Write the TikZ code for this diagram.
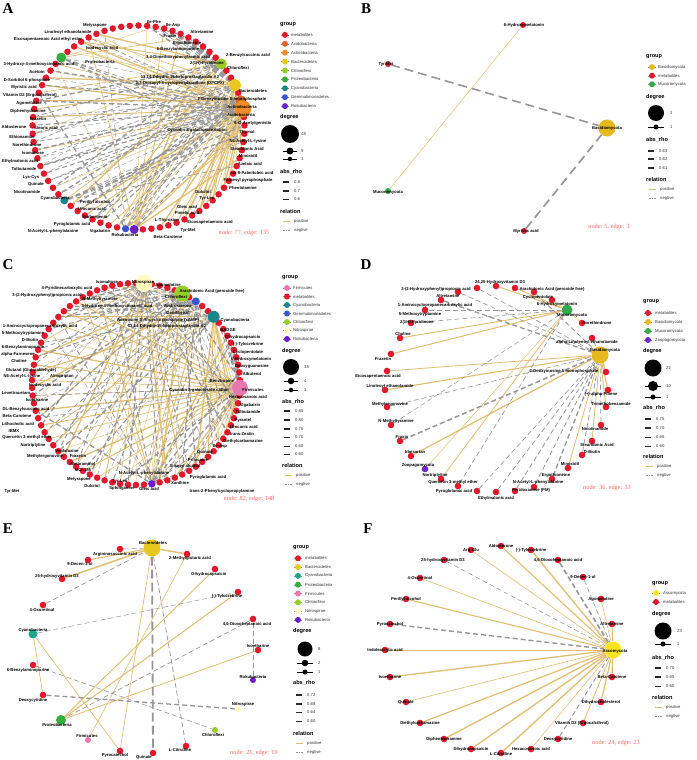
\documentclass[tikz,border=0pt]{standalone}
\usepackage{fontspec}
\setmainfont{Liberation Sans}
\newfontfamily\serifbf{Liberation Serif}
\pgfdeclarelayer{edgelayer}
\pgfsetlayers{edgelayer,main}
\definecolor{metab}{RGB}{225,25,45}
\definecolor{acido}{RGB}{226,100,40}
\definecolor{actino}{RGB}{238,140,40}
\definecolor{bactero}{RGB}{232,200,30}
\definecolor{chloro}{RGB}{150,205,40}
\definecolor{proteo}{RGB}{50,175,60}
\definecolor{cyano}{RGB}{25,135,140}
\definecolor{cyanoE}{RGB}{30,165,140}
\definecolor{gemma}{RGB}{55,85,205}
\definecolor{roku}{RGB}{105,30,200}
\definecolor{firmi}{RGB}{228,120,175}
\definecolor{nitro}{RGB}{255,250,190}
\definecolor{basid}{RGB}{230,185,30}
\definecolor{muco}{RGB}{50,170,75}
\definecolor{zoop}{RGB}{110,40,205}
\definecolor{asco}{RGB}{252,228,30}
\definecolor{poscol}{RGB}{225,190,115}
\definecolor{negcol}{RGB}{150,150,150}
\definecolor{statcol}{RGB}{255,105,105}
\tikzset{
 lbl/.style={font=\fontsize{4.2}{4.2}\selectfont\bfseries, inner sep=0pt, text=black},
 leg/.style={font=\fontsize{4.2}{4.2}\selectfont, inner sep=0pt, anchor=west, text=black!80},
 legt/.style={font=\fontsize{5.6}{5.6}\selectfont\bfseries, inner sep=0pt, anchor=west},
 dot/.style={circle, fill=metab, inner sep=0pt, minimum size=6.6pt},
 legdot/.style={circle, inner sep=0pt, minimum size=6pt},
 bdot/.style={circle, fill=black, inner sep=0pt},
 pe/.style={draw=poscol, line width=0.7pt},
 ne/.style={draw=negcol, line width=0.7pt, dash pattern=on 5pt off 3pt},
 stat/.style={font=\serifbf\fontsize{6.3}{6.3}\selectfont, text=statcol, inner sep=0pt},
 letter/.style={font=\serifbf\bfseries\fontsize{15}{15}\selectfont, inner sep=0pt},
 legkey/.style={draw=black!45, line width=0.4pt}
}
\newcommand{\RelLegend}[3]{%
 \node[legt] (#1rel) at (#2,#3) {relation};
 \draw[poscol, line width=0.7pt] (#2+3,#3+10) -- (#2+10,#3+10);
 \node[leg] (#1pos) at (#2+14,#3+10) {positive};
 \draw[negcol, line width=0.7pt, dash pattern=on 1.6pt off 1pt] (#2+3,#3+19) -- (#2+10,#3+19);
 \node[leg] (#1neg) at (#2+14,#3+19) {negtive};}
\begin{document}
\begin{tikzpicture}[x=1pt,y=-1pt]
\useasboundingbox (0,0) rectangle (696,760);
\begin{pgfonlayer}{edgelayer}
\fill[white] (0,0) rectangle (696,760);
\end{pgfonlayer}
% ================= PANEL A =================
\node[letter] (LetA) at (8,9) {A};
\foreach \i in {0,...,76} \node[dot] (A\i) at ({138.5+106*cos(-90+\i*4.675325)},{127.5+102*sin(-90+\i*4.675325)}) {};
\foreach \i/\c/\s in {16/acido/11,17/actino/17,14/bactero/12,11/chloro/11,67/proteo/10,48/cyano/8,40/gemma/7,39/roku/9}
 \node[dot, fill=\c, minimum size=\s pt] (A\i) at (A\i.center) {};
\begin{pgfonlayer}{edgelayer}
\foreach \s/\tl in {17/{26,27,28,29,30,31,32,33,34,36,41,42,45,46,50,55,59,63,65,66,69,70,72},14/{22,24,27,29,31,33,35,60,64,68,71},11/{25,41,43,47,57,62,70,72},39/{1,3,5,8,9,12,19,23,66,71},67/{2,6},16/{30,33,61,69},40/{10,20},48/{13}}
 {\foreach \t [count=\k] in \tl {\draw[pe, line width={0.35+0.3*mod(\k+\s,4)}] (A\s) -- (A\t);}}
\foreach \s/\tl in {17/{44,47,49,51,52,53,54,56,58,61,64,71},16/{41,43,46,50,51,53,55,57,59,63,65,70},14/{1,2,3,4,5,6,7,8,9,10,41,44,49,52,54,57},11/{1,2,3,4,5,6,7,50,53,56,59,61},39/{13,15,18},40/{12,15,62,73},48/{18,19,20,21,24},67/{15,18,19,21,22}}
 {\foreach \t [count=\k] in \tl {\draw[ne, line width={0.4+0.3*mod(\k+\s,4)}] (A\s) -- (A\t);}}
\end{pgfonlayer}
\node[lbl] (la1) at (95,25) {Metyrapone};
\node[lbl] (la2) at (154,22) {Ile-Phe};
\node[lbl] (la3) at (173,25) {Ile-Asp};
\node[lbl] (la4) at (68,32) {Linoleoyl ethanolamide};
\node[lbl] (la5) at (202,32) {Altretamine};
\node[lbl] (la6) at (170,36) {Fraxin};
\node[lbl] (la7) at (48,39) {Eicosapentaenoic Acid ethyl ester};
\node[lbl] (la8) at (187,43) {Ergothioneine};
\node[lbl] (la9) at (102,48) {Isodecyclic acid};
\node[lbl] (la10) at (178,49) {6-Benzylaminopurine};
\node[lbl] (la11) at (100,62) {Proteobacteria};
\node[lbl] (la12) at (178,57) {3,4-Dimethoxyphenylacetic acid};
\node[lbl] (la13) at (248,55) {2-Benzylsuccinic acid};
\node[lbl] (la14) at (207,63) {2(1H)-Pyridinone};
\node[lbl] (la15) at (238,68) {Chloroflexi};
\node[lbl] (la16) at (39,64) {3-Hydroxy-4-methoxycinnamic acid};
\node[lbl] (la17) at (37,72) {Acetoin};
\node[lbl] (la18) at (27,80) {D-Sorbitol 6-phosphate};
\node[lbl] (la19) at (180,77) {13,14-Dihydro-15-ketoprostaglandin A2};
\node[lbl] (la20) at (180,83) {1,3-Dipropyl-8-cyclopentylxanthine (DPCPX)};
\node[lbl] (la21) at (253,91) {Bacteroidetes};
\node[lbl] (la22) at (24,87) {Myristic acid};
\node[lbl] (la23) at (30,95) {Vitamin D2 (Ergocalciferol)};
\node[lbl] (la24) at (232,99) {2-Deoxyinosine 5-monophosphate};
\node[lbl] (la25) at (29,103) {Agomelatine};
\node[lbl] (la26) at (242,107) {Actinobacteria};
\node[lbl] (la27) at (28,111) {Diphenhydramine};
\node[lbl] (la28) at (241,115) {Acidobacteria};
\node[lbl] (la29) at (38,119) {Fraxetin};
\node[lbl] (la30) at (253,123) {6-O-Acetylgenistin};
\node[lbl] (la31) at (14,127) {Aldosterone};
\node[lbl] (la32) at (46,128) {Stearic acid};
\node[lbl] (la33) at (197,130) {Cyanidin 3-galactoside cation};
\node[lbl] (la34) at (247,132) {Thymol};
\node[lbl] (la35) at (22,137) {Ethionamide};
\node[lbl] (la36) at (248,141) {N6-Acetyl-L-lysine};
\node[lbl] (la37) at (27,145) {Norethindrone};
\node[lbl] (la38) at (247,149) {Stearidonic Acid};
\node[lbl] (la39) at (33,153) {Isomaltose};
\node[lbl] (la40) at (248,156) {Minoxidil};
\node[lbl] (la41) at (20,161) {Ethylmalonic acid};
\node[lbl] (la42) at (250,164) {Azelaic acid};
\node[lbl] (la43) at (24,169) {Tolbutamide};
\node[lbl] (la44) at (252,173) {cis-9-Palmitoleic acid};
\node[lbl] (la45) at (31,177) {Lys-Cys};
\node[lbl] (la46) at (248,180) {Farnesyl pyrophosphate};
\node[lbl] (la47) at (36,184) {Quinate};
\node[lbl] (la48) at (243,188) {Phentolamine};
\node[lbl] (la49) at (27,192) {Nicotinamide};
\node[lbl] (la50) at (55,198) {Cyanobacteria};
\node[lbl] (la51) at (203,192) {Dulcitol};
\node[lbl] (la52) at (95,202) {Perillyl alcohol};
\node[lbl] (la53) at (207,198) {Tyr-Leu};
\node[lbl] (la54) at (187,207) {Oleic acid};
\node[lbl] (la55) at (92,209) {Urocanic acid};
\node[lbl] (la56) at (187,213) {Pimelic acid};
\node[lbl] (la57) at (95,217) {Norbergenin};
\node[lbl] (la58) at (167,220) {L-Thyroxine};
\node[lbl] (la59) at (210,222) {Eicosapentaenoic acid};
\node[lbl] (la60) at (72,224) {Pyroglutamic acid};
\node[lbl] (la61) at (53,231) {N-Acetyl-L-phenylalanine};
\node[lbl] (la62) at (100,231) {Vigabatrin};
\node[lbl] (la63) at (125,235) {Rokubacteria};
\node[lbl] (la64) at (188,230) {Tyr-Met};
\node[lbl] (la65) at (168,237) {Beta-Carotene};
\node[stat] (Ast) at (244,233) {node: 77, edge: 135};
% legend A
\node[legt] (Ag) at (280,25) {group};
\foreach \c/\t [count=\k] in {metab/metabolites,acido/Acidobacteria,actino/Actinobacteria,bactero/Bacteroidetes,chloro/Chloroflexi,proteo/Proteobacteria,cyano/Cyanobacteria,gemma/Gemmatimonadetes,roku/Rokubacteria}{
 \draw[legkey] (281,{26+8.9*\k}) -- (289,{26+8.9*\k});
 \node[legdot, fill=\c] (Agd\k) at (285,{26+8.9*\k}) {};
 \node[leg] (Agt\k) at (291,{26+8.9*\k}) {\t};}
\node[legt] (Adeg) at (280,117) {degree};
\node[bdot, minimum size=18pt] (Adg1) at (290,134) {};
\node[leg] (Adt1) at (301,134) {48};
\draw[black, line width=0.5pt] (283,151) -- (297,151);
\node[bdot, minimum size=7pt] (Adg2) at (290,151) {};
\node[leg] (Adt2) at (301,151) {9};
\draw[black, line width=0.5pt] (283,159) -- (297,159);
\node[bdot, minimum size=4.5pt] (Adg3) at (290,159) {};
\node[leg] (Adt3) at (301,159) {1};
\node[legt] (Aab) at (280,172) {abs\_rho};
\foreach \y/\w/\t [count=\k] in {182/1.4/0.8,191/1.1/0.7,199/0.8/0.6}{
 \draw[black!85, line width=\w pt] (283,\y) -- (289,\y);
 \node[leg] (Aat\k) at (294,\y) {\t};}
\RelLegend{A}{280}{211}
% ================= PANEL B =================
\node[letter] (LetB) at (366,9) {B};
\node[dot, minimum size=6pt] (Bhm) at (523,25) {};
\node[dot, minimum size=6pt] (Btm) at (388,64) {};
\node[dot, fill=basid, minimum size=17pt] (Bbas) at (607,128) {};
\node[dot, fill=muco, minimum size=6pt] (Bmuc) at (388,191) {};
\node[dot, minimum size=6pt] (Bmyr) at (524,231) {};
\begin{pgfonlayer}{edgelayer}
\draw[pe, line width=0.5pt] (Bhm) -- (Bmuc);
\draw[ne, line width=1.6pt, dash pattern=on 9pt off 5pt] (Btm) -- (Bbas);
\draw[ne, line width=1.7pt, dash pattern=on 9pt off 5pt] (Bmyr) -- (Bbas);
\end{pgfonlayer}
\node[lbl] (lb1) at (524,25) {6-Hydroxymelatonin};
\node[lbl] (lb2) at (386,64) {Tyr-Met};
\node[lbl] (lb3) at (607,128) {Basidiomycota};
\node[lbl] (lb4) at (388,192) {Mucoromycota};
\node[lbl] (lb5) at (526,231) {Myristic acid};
\node[stat] (Bst) at (609,227) {node: 5, edge: 3};
\node[legt] (Bg) at (646,57) {group};
\foreach \c/\t [count=\k] in {basid/Basidiomycota,metab/metabolites,muco/Mucoromycota}{
 \draw[legkey] (648,{58.5+8.6*\k}) -- (656,{58.5+8.6*\k});
 \node[legdot, fill=\c] (Bgd\k) at (652,{58.5+8.6*\k}) {};
 \node[leg] (Bgt\k) at (658,{58.5+8.6*\k}) {\t};}
\node[legt] (Bdeg) at (646,97) {degree};
\node[bdot, minimum size=16pt] (Bdg1) at (656,113) {};
\node[leg] (Bdt1) at (670,113) {2};
\draw[black, line width=0.5pt] (648,127) -- (664,127);
\node[bdot, minimum size=5pt] (Bdg2) at (656,127) {};
\node[leg] (Bdt2) at (670,127) {1};
\node[legt] (Bab) at (646,140) {abs\_rho};
\foreach \y/\w/\t [count=\k] in {151/1.6/0.63,159/1.4/0.62,168/1.2/0.61}{
 \draw[black!85, line width=\w pt] (648,\y) -- (654,\y);
 \node[leg] (Bat\k) at (659,\y) {\t};}
\RelLegend{B}{646}{179}
% ================= PANEL C =================
\node[letter] (LetC) at (8,265) {C};
\foreach \i in {0,...,81} \node[dot] (C\i) at ({136+104*cos(-90+\i*4.390244)},{384+101*sin(-90+\i*4.390244)}) {};
\foreach \i/\c/\s in {1/nitro/17,6/chloro/16,8/gemma/8,11/cyano/12,21/firmi/16,39/roku/7.5}
 \node[dot, fill=\c, minimum size=\s pt] (C\i) at (C\i.center) {};
\begin{pgfonlayer}{edgelayer}
\foreach \s/\tl in {21/{26,28,30,32,34,36,44,46,48,50,52,54,56,58,60,62,64,66,68,70,72,74,76,78,80},11/{22,23,24,25,27,29,31,33,47,55,63,71},1/{35,37,41,43,45,51,59,67},6/{38,42,49,57,65,73,79},39/{3,5,9,14,16,75,77},8/{40,53,61}}
 {\foreach \t [count=\k] in \tl {\draw[pe, line width={0.35+0.3*mod(\k+\s,4)}] (C\s) -- (C\t);}}
\foreach \s/\tl in {6/{20,24,26,29,33,36,40,44,47,50,53,57,60,63,66,69,72,75,78,81},1/{23,27,31,34,38,42,46,49,52,56,61,64,70,74},8/{25,30,35,45,55,65,71,76,80},11/{2,4,48,52,59,67,73,77},21/{12,13,14,15,16,17,18,35,38,43,57,60},39/{7,10,15,19,22,27,33,58,69,71,79}}
 {\foreach \t [count=\k] in \tl {\draw[ne, line width={0.4+0.3*mod(\k+\s,4)}] (C\s) -- (C\t);}}
\end{pgfonlayer}
\node[lbl] (lc1) at (67,288) {4-Pyridinecarboxylic acid};
\node[lbl] (lc2) at (107,282) {Isomaltose};
\node[lbl] (lc3) at (143,282) {Nitrospirae};
\node[lbl] (lc4) at (168,285) {Agomelatine};
\node[lbl] (lc5) at (212,291) {Arachidonic Acid (peroxide free)};
\node[lbl] (lc6) at (47,295) {3-(2-Hydroxyphenyl)propionic acid};
\node[lbl] (lc7) at (176,297) {Chloroflexi};
\node[lbl] (lc8) at (100,299) {N-Methyltyramine};
\node[lbl] (lc9) at (178,306) {Androsterone};
\node[lbl] (lc10) at (117,306) {3-Hydroxy-4-methoxycinnamic acid};
\node[lbl] (lc11) at (178,313) {Gemfibrozil};
\node[lbl] (lc12) at (235,320) {Cyanobacteria};
\node[lbl] (lc13) at (158,320) {Adenosine 3',5'-cyclic phosphate (cAMP)};
\node[lbl] (lc14) at (40,326) {1-Aminocyclopropanecarboxylic acid};
\node[lbl] (lc15) at (167,326) {13,14-Dihydro-15-ketoprostaglandin A2};
\node[lbl] (lc16) at (228,330) {BADGE};
\node[lbl] (lc17) at (23,333) {5-Methoxytryptamine};
\node[lbl] (lc18) at (243,337) {Dihydrocapsaicin};
\node[lbl] (lc19) at (30,340) {D-Biotin};
\node[lbl] (lc20) at (248,344) {(-)-Tylocrebrine};
\node[lbl] (lc21) at (23,347) {6-Benzylaminopurine};
\node[lbl] (lc22) at (248,352) {Cyclopentolate};
\node[lbl] (lc23) at (18,354) {alpha-Farnesene};
\node[lbl] (lc24) at (251,359) {6-Hydroxymelatonin};
\node[lbl] (lc25) at (19,361) {Choline};
\node[lbl] (lc26) at (252,366) {Deoxyguanosine};
\node[lbl] (lc27) at (31,370) {Glutaral (Glutaraldehyde)};
\node[lbl] (lc28) at (252,374) {Albuterol};
\node[lbl] (lc29) at (22,376) {N6-Acetyl-L-lysine};
\node[lbl] (lc30) at (62,376) {Almotriptan};
\node[lbl] (lc31) at (222,381) {Benztropine};
\node[lbl] (lc32) at (45,385) {Isodecyclic acid};
\node[lbl] (lc33) at (253,390) {Firmicutes};
\node[lbl] (lc34) at (199,390) {Cyanidin 3-galactoside cation};
\node[lbl] (lc35) at (16,393) {Levetiracetam};
\node[lbl] (lc36) at (248,397) {Hexacosanoic acid};
\node[lbl] (lc37) at (37,400) {Isoetharine};
\node[lbl] (lc38) at (250,405) {Vigabatrin};
\node[lbl] (lc39) at (26,409) {DL-Benzylsuccinic acid};
\node[lbl] (lc40) at (248,412) {Tolbutamide};
\node[lbl] (lc41) at (17,416) {Beta-Carotene};
\node[lbl] (lc42) at (243,420) {Pyrantel};
\node[lbl] (lc43) at (18,424) {Lithocholic acid};
\node[lbl] (lc44) at (244,427) {Urocanic acid};
\node[lbl] (lc45) at (14,431) {IBMX};
\node[lbl] (lc46) at (242,434) {trans-Zeatin};
\node[lbl] (lc47) at (27,437) {Quercetin 3-methyl ether};
\node[lbl] (lc48) at (243,441) {Diethylcarbamazine};
\node[lbl] (lc49) at (33,445) {Nortriptyline};
\node[lbl] (lc50) at (220,446) {Ile-Asp};
\node[lbl] (lc51) at (67,451) {Venlafaxine};
\node[lbl] (lc52) at (205,452) {Quinate};
\node[lbl] (lc53) at (45,456) {Methylergonovine};
\node[lbl] (lc54) at (78,456) {Fraxetin};
\node[lbl] (lc55) at (198,460) {Prilocaine};
\node[lbl] (lc56) at (83,464) {Metaraminol};
\node[lbl] (lc57) at (185,466) {Sinapyl alcohol};
\node[lbl] (lc58) at (83,470) {MCI-186};
\node[lbl] (lc59) at (144,473) {N-Acetyl-L-phenylalanine};
\node[lbl] (lc60) at (208,477) {Pyroglutamic acid};
\node[lbl] (lc61) at (79,479) {Metyrapone};
\node[lbl] (lc62) at (120,481) {Tyr-Leu};
\node[lbl] (lc63) at (92,486) {Dulcitol};
\node[lbl] (lc64) at (122,488) {Sphinganine};
\node[lbl] (lc65) at (149,489) {Oleic acid};
\node[lbl] (lc66) at (180,483) {Xanthine};
\node[lbl] (lc67) at (222,491) {trans-2-Phenylcyclopropylamine};
\node[lbl] (lc68) at (12,491) {Tyr-Met};
\node[stat] (Cst) at (249,499) {node: 82, edge: 148};
\node[legt] (Cg) at (282,278) {group};
\foreach \c/\t [count=\k] in {firmi/Firmicutes,metab/metabolites,cyano/Cyanobacteria,gemma/Gemmatimonadetes,chloro/Chloroflexi,nitro/Nitrospirae,roku/Rokubacteria}{
 \draw[legkey] (283,{279.5+8.5*\k}) -- (291,{279.5+8.5*\k});
 \node[legdot, fill=\c] (Cgd\k) at (287,{279.5+8.5*\k}) {};
 \node[leg] (Cgt\k) at (293,{279.5+8.5*\k}) {\t};}
\node[legt] (Cdeg) at (282,351) {degree};
\node[bdot, minimum size=16pt] (Cdg1) at (291,367) {};
\node[leg] (Cdt1) at (304,367) {38};
\draw[black, line width=0.5pt] (284,381) -- (298,381);
\node[bdot, minimum size=6.5pt] (Cdg2) at (291,381) {};
\node[leg] (Cdt2) at (304,381) {4};
\draw[black, line width=0.5pt] (284,390) -- (298,390);
\node[bdot, minimum size=4.5pt] (Cdg3) at (291,390) {};
\node[leg] (Cdt3) at (304,390) {1};
\node[legt] (Cab) at (282,402) {abs\_rho};
\foreach \y/\w/\t [count=\k] in {411/1.6/0.85,420/1.4/0.80,429/1.2/0.75,437/1.0/0.70,446/0.8/0.65,454/0.6/0.60}{
 \draw[black!85, line width=\w pt] (284,\y) -- (290,\y);
 \node[leg] (Cat\k) at (295,\y) {\t};}
\RelLegend{C}{282}{465}
% ================= PANEL D =================
\node[letter] (LetD) at (366,265) {D};
\foreach \n/\x/\y in {hpp/458/292,amc/477/288,hvd/496/286,ara/515/288,cyc/534/292,hm/552/300,nor/582/323,lint/592/338,deo/606/372,pin/608/390,tri/606/407,nic/601/425,ste/592/441,bio/582/455,min/568/468,erg/552/479,nac/534/487,pyr/515/491,eth/496/492,pyg/477/491,que/458/486,nort/441/479,irb/411/456,frx/400/441,nmt/391/425,meg/387/407,lin/385/390,eic/387/371,fxt/391/354,cho/400/338,pyd/411/323,met/425/310,alt/441/300}
 \node[dot] (D\n) at (\x,\y) {};
\node[dot, fill=muco, minimum size=11pt] (Dmuco) at (567,310) {};
\node[dot, fill=basid, minimum size=17pt] (Dbas) at (600,355) {};
\node[dot, fill=zoop, minimum size=6.6pt] (Dzoo) at (425,469) {};
\begin{pgfonlayer}{edgelayer}
\foreach \a/\b/\w in {hvd/muco/0.9,cho/muco/0.9,fxt/muco/1.0,eic/bas/0.8,lin/bas/1.1,irb/bas/1.2,zoo/muco/0.5,nort/muco/0.8,min/bas/0.8,ste/bas/0.8,tri/bas/0.9,pin/bas/1.1,deo/bas/1.0,nor/muco/0.6,ara/muco/0.9,hm/muco/0.6}
 \draw[pe, line width=\w pt] (D\a) -- (D\b);
\foreach \a/\b/\w in {hpp/bas/0.6,alt/bas/1.3,amc/bas/0.6,met/muco/0.6,pyd/muco/0.6,meg/bas/0.6,frx/bas/1.5,que/muco/0.6,pyg/bas/0.6,eth/bas/0.7,pyr/bas/0.8,nac/bas/0.7,erg/bas/1.3,bio/bas/0.7,nic/bas/0.7,lint/bas/0.7,cyc/bas/0.8,nmt/muco/0.5}
 \draw[ne, line width=\w pt] (D\a) -- (D\b);
\end{pgfonlayer}
\node[lbl] (ld1) at (500,282) {24,25-Hydroxyvitamin D3};
\node[lbl] (ld2) at (436,289) {3-(2-Hydroxyphenyl)propionic acid};
\node[lbl] (ld3) at (552,289) {Arachidonic Acid (peroxide free)};
\node[lbl] (ld4) at (448,296) {Altretamine};
\node[lbl] (ld5) at (538,297) {Cyclopentolate};
\node[lbl] (ld6) at (435,305) {1-Aminocyclopropanecarboxylic acid};
\node[lbl] (ld7) at (557,304) {6-Hydroxymelatonin};
\node[lbl] (ld8) at (420,314) {5-Methoxytryptamine};
\node[lbl] (ld9) at (417,322) {2(1H)-Pyridinone};
\node[lbl] (ld10) at (572,315) {Mucoromycota};
\node[lbl] (ld11) at (597,323) {Norethindrone};
\node[lbl] (ld12) at (403,334) {Choline};
\node[lbl] (ld13) at (587,342) {alpha-Linolenoyl ethanolamide};
\node[lbl] (ld14) at (605,350) {Basidiomycota};
\node[lbl] (ld15) at (383,359) {Fraxetin};
\node[lbl] (ld16) at (378,376) {Eicosapentaenoic acid};
\node[lbl] (ld17) at (564,371) {2-Deoxyinosine 5-monophosphate};
\node[lbl] (ld18) at (390,386) {Linoleoyl ethanolamide};
\node[lbl] (ld19) at (601,394) {(+)-alpha-Pinene};
\node[lbl] (ld20) at (390,404) {Methylergonovine};
\node[lbl] (ld21) at (611,404) {Trimethobenzamide};
\node[lbl] (ld22) at (396,421) {N-Methyltyramine};
\node[lbl] (ld23) at (595,429) {Nicotinamide};
\node[lbl] (ld24) at (402,437) {Fraxin};
\node[lbl] (ld25) at (597,445) {Stearidonic Acid};
\node[lbl] (ld26) at (592,452) {D-Biotin};
\node[lbl] (ld27) at (415,452) {Irbesartan};
\node[lbl] (ld28) at (418,465) {Zoopagomycota};
\node[lbl] (ld29) at (570,464) {Minoxidil};
\node[lbl] (ld30) at (435,475) {Nortriptyline};
\node[lbl] (ld31) at (556,475) {Ergothioneine};
\node[lbl] (ld32) at (453,482) {Quercetin 3-methyl ether};
\node[lbl] (ld33) at (538,482) {N-Acetyl-L-phenylalanine};
\node[lbl] (ld34) at (454,491) {Pyroglutamic acid};
\node[lbl] (ld35) at (531,490) {Pyridoxamine (PM)};
\node[lbl] (ld36) at (496,498) {Ethylmalonic acid};
\node[stat] (Dst) at (607,488) {node: 36, edge: 33};
\node[legt] (Dg) at (643,302) {group};
\foreach \c/\t [count=\k] in {metab/metabolites,basid/Basidiomycota,muco/Mucoromycota,zoop/Zoopagomycota}{
 \draw[legkey] (644,{304+9*\k}) -- (652,{304+9*\k});
 \node[legdot, fill=\c] (Dgd\k) at (648,{304+9*\k}) {};
 \node[leg] (Dgt\k) at (655,{304+9*\k}) {\t};}
\node[legt] (Ddeg) at (643,351) {degree};
\node[bdot, minimum size=17pt] (Ddg1) at (653,368) {};
\node[leg] (Ddt1) at (666,368) {22};
\draw[black, line width=0.5pt] (645,386) -- (661,386);
\node[bdot, minimum size=10pt] (Ddg2) at (653,386) {};
\node[leg] (Ddt2) at (666,386) {10};
\draw[black, line width=0.5pt] (645,397) -- (661,397);
\node[bdot, minimum size=5pt] (Ddg3) at (653,397) {};
\node[leg] (Ddt3) at (666,397) {1};
\node[legt] (Dab) at (643,408) {abs\_rho};
\foreach \y/\w/\t [count=\k] in {419/1.5/0.75,428/1.25/0.70,437/1.0/0.65,446/0.75/0.60}{
 \draw[black!85, line width=\w pt] (645,\y) -- (651,\y);
 \node[leg] (Dat\k) at (656,\y) {\t};}
\RelLegend{D}{643}{456}
% ================= PANEL E =================
\node[letter] (LetE) at (8,529) {E};
\foreach \n/\x/\y in {arg/120/549,mgl/187/554,dec/88/560,dhc/215/569,hvd/62/579,tyl/238/592,oxo/43/605,dox/253/619,iso/258/650,ben/33/665,dcy/43/695,cit/186/746,pyr/120/751,qui/153/753}
 \node[dot] (E\n) at (\x,\y) {};
\node[dot, fill=bactero, minimum size=17pt] (Ebac) at (152,548) {};
\node[dot, fill=cyanoE, minimum size=9pt] (Ecya) at (33,634) {};
\node[dot, fill=roku, minimum size=6pt] (Erok) at (253,680) {};
\node[dot, fill=nitro, minimum size=6pt] (Enit) at (238,709) {};
\node[dot, fill=proteo, minimum size=10pt] (Epro) at (61,720) {};
\node[dot, fill=chloro, minimum size=6pt] (Echl) at (215,730) {};
\node[dot, fill=firmi, minimum size=6pt] (Efir) at (88,740) {};
\begin{pgfonlayer}{edgelayer}
\foreach \a/\b/\w in {hvd/bac/1.5,dec/bac/1.0,bac/mgl/1.5,bac/pyr/0.7,mgl/fir/0.6,dhc/pro/0.9,tyl/pro/1.0,iso/pro/0.8,cya/dcy/0.7,cya/pyr/0.7}
 \draw[pe, line width=\w pt] (E\a) -- (E\b);
\foreach \a/\b/\w in {arg/bac/0.5,oxo/bac/0.7,bac/cit/0.7,cya/tyl/0.5,dox/pro/0.7,dox/rok/0.5,ben/chl/0.6,dcy/nit/1.3}
 \draw[ne, line width=\w pt] (E\a) -- (E\b);
\draw[ne, line width=1.8pt, dash pattern=on 9pt off 4pt] (Ebac) -- (Equi);
\end{pgfonlayer}
\node[lbl] (le1) at (153,543) {Bacteroidetes};
\node[lbl] (le2) at (115,554) {Argininosuccinic acid};
\node[lbl] (le3) at (190,558) {2-Methylglutaric acid};
\node[lbl] (le4) at (80,564) {9-Decen-1-ol};
\node[lbl] (le5) at (209,574) {Dihydrocapsaicin};
\node[lbl] (le6) at (57,576) {25-hydroxyvitamin D3};
\node[lbl] (le7) at (227,596) {(-)-Tylocrebrine};
\node[lbl] (le8) at (42,610) {4-Oxoretinol};
\node[lbl] (le9) at (247,624) {4,6-Dioxoheptanoic acid};
\node[lbl] (le10) at (33,630) {Cyanobacteria};
\node[lbl] (le11) at (258,646) {Isoetharine};
\node[lbl] (le12) at (28,670) {6-Benzylaminopurine};
\node[lbl] (le13) at (253,677) {Rokubacteria};
\node[lbl] (le14) at (33,700) {Deoxycytidine};
\node[lbl] (le15) at (243,704) {Nitrospirae};
\node[lbl] (le16) at (57,725) {Proteobacteria};
\node[lbl] (le17) at (213,735) {Chloroflexi};
\node[lbl] (le18) at (87,736) {Firmicutes};
\node[lbl] (le19) at (180,750) {L-Citrulline};
\node[lbl] (le20) at (115,755) {Pyrocatechol};
\node[lbl] (le21) at (144,757) {Quinate};
\node[stat] (Est) at (254,753) {node: 21, edge: 19};
\node[legt] (Eg) at (293,548) {group};
\foreach \c/\t [count=\k] in {metab/metabolites,bactero/Bacteroidetes,cyanoE/Cyanobacteria,proteo/Proteobacteria,firmi/Firmicutes,chloro/Chloroflexi,nitro/Nitrospirae,roku/Rokubacteria}{
 \draw[legkey] (294,{549.5+8.8*\k}) -- (302,{549.5+8.8*\k});
 \node[legdot, fill=\c] (Egd\k) at (298,{549.5+8.8*\k}) {};
 \node[leg] (Egt\k) at (305,{549.5+8.8*\k}) {\t};}
\node[legt] (Edeg) at (293,631) {degree};
\node[bdot, minimum size=15pt] (Edg1) at (305,649) {};
\node[leg] (Edt1) at (318,649) {8};
\draw[black, line width=0.5pt] (297,663) -- (313,663);
\node[bdot, minimum size=6.5pt] (Edg2) at (305,663) {};
\node[leg] (Edt2) at (318,663) {2};
\draw[black, line width=0.5pt] (297,672) -- (313,672);
\node[bdot, minimum size=5pt] (Edg3) at (305,672) {};
\node[leg] (Edt3) at (318,672) {1};
\node[legt] (Eab) at (293,683) {abs\_rho};
\foreach \y/\w/\t [count=\k] in {695/1.6/0.72,704/1.3/0.68,712/1.0/0.64,721/0.7/0.60}{
 \draw[black!85, line width=\w pt] (296,\y) -- (302,\y);
 \node[leg] (Eat\k) at (307,\y) {\t};}
\RelLegend{E}{293}{733}
% ================= PANEL F =================
\node[letter] (LetF) at (368,529) {F};
\node[dot, fill=asco, minimum size=17pt] (Fasc) at (613,650) {};
\foreach \n/\x/\y/\w/\s in {ag/471/550/0.6/p,ald/501/546/1.1/p,tyl/531/550/1.3/p,hvd/444/560/0.5/n,dox/558/560/1.6/n,oxo/420/578/0.6/p,dec/583/577/0.6/n,per/406/599/1.1/p,ago/601/599/0.6/p,pyr/390/624/1.4/n,alt/612/624/0.9/p,ind/385/650/0.8/p,iso/390/677/1.3/p,bet/612/677/1.2/p,qui/406/702/0.6/p,dhc/601/702/1.2/p,die/420/723/1.2/p,vit/583/723/0.8/p,dip/444/739/1.3/p,dcy/558/739/0.9/n,dcp/471/749/1.3/p,cit/501/753/1.3/p,hex/531/749/0.5/p}{
 \node[dot] (F\n) at (\x,\y) {};
 \begin{pgfonlayer}{edgelayer}
 \draw[\s e, line width=\w pt] (F\n) -- (Fasc);
 \end{pgfonlayer}}
\node[lbl] (lf1) at (471,550) {Arg-Glu};
\node[lbl] (lf2) at (501,546) {Aldosterone};
\node[lbl] (lf3) at (531,550) {(-)-Tylocrebrine};
\node[lbl] (lf4) at (443,560) {25-hydroxyvitamin D3};
\node[lbl] (lf5) at (558,560) {4,6-Dioxoheptanoic acid};
\node[lbl] (lf6) at (420,578) {4-Oxoretinol};
\node[lbl] (lf7) at (583,577) {9-Decen-1-ol};
\node[lbl] (lf8) at (406,599) {Perillyl alcohol};
\node[lbl] (lf9) at (601,599) {Agomelatine};
\node[lbl] (lf10) at (390,624) {Pyrocatechol};
\node[lbl] (lf11) at (612,624) {Altretamine};
\node[lbl] (lf12) at (385,650) {Indoleacrylic acid};
\node[lbl] (lf13) at (390,677) {Isoetharine};
\node[lbl] (lf14) at (612,677) {Beta-Carotene};
\node[lbl] (lf15) at (406,702) {Quinate};
\node[lbl] (lf16) at (601,702) {Dihydrocholesterol};
\node[lbl] (lf17) at (420,723) {Diethylcarbamazine};
\node[lbl] (lf18) at (582,723) {Vitamin D2 (Ergocalciferol)};
\node[lbl] (lf19) at (444,739) {Diphenhydramine};
\node[lbl] (lf20) at (558,739) {Deoxycytidine};
\node[lbl] (lf21) at (471,749) {Dihydrocapsaicin};
\node[lbl] (lf22) at (501,754) {L-Citrulline};
\node[lbl] (lf23) at (531,749) {Hexacosanoic acid};
\node[lbl] (lf24) at (615,651) {Ascomycota};
\node[stat] (Fst) at (616,743) {node: 24, edge: 23};
\node[legt] (Fg) at (652,584) {group};
\foreach \c/\t [count=\k] in {asco/Ascomycota,metab/metabolites}{
 \draw[legkey] (652,{584+9*\k}) -- (660,{584+9*\k});
 \node[legdot, fill=\c] (Fgd\k) at (656,{584+9*\k}) {};
 \node[leg] (Fgt\k) at (663,{584+9*\k}) {\t};}
\node[legt] (Fdeg) at (652,614) {degree};
\node[bdot, minimum size=17pt] (Fdg1) at (663,631) {};
\node[leg] (Fdt1) at (677,631) {23};
\draw[black, line width=0.5pt] (655,644) -- (671,644);
\node[bdot, minimum size=5pt] (Fdg2) at (663,644) {};
\node[leg] (Fdt2) at (677,644) {1};
\node[legt] (Fab) at (652,658) {abs\_rho};
\foreach \y/\w/\t [count=\k] in {668/1.4/0.70,677/1.1/0.65,686/0.8/0.60}{
 \draw[black!85, line width=\w pt] (655,\y) -- (661,\y);
 \node[leg] (Fat\k) at (666,\y) {\t};}
\RelLegend{F}{652}{697}
\end{tikzpicture}
\end{document}
